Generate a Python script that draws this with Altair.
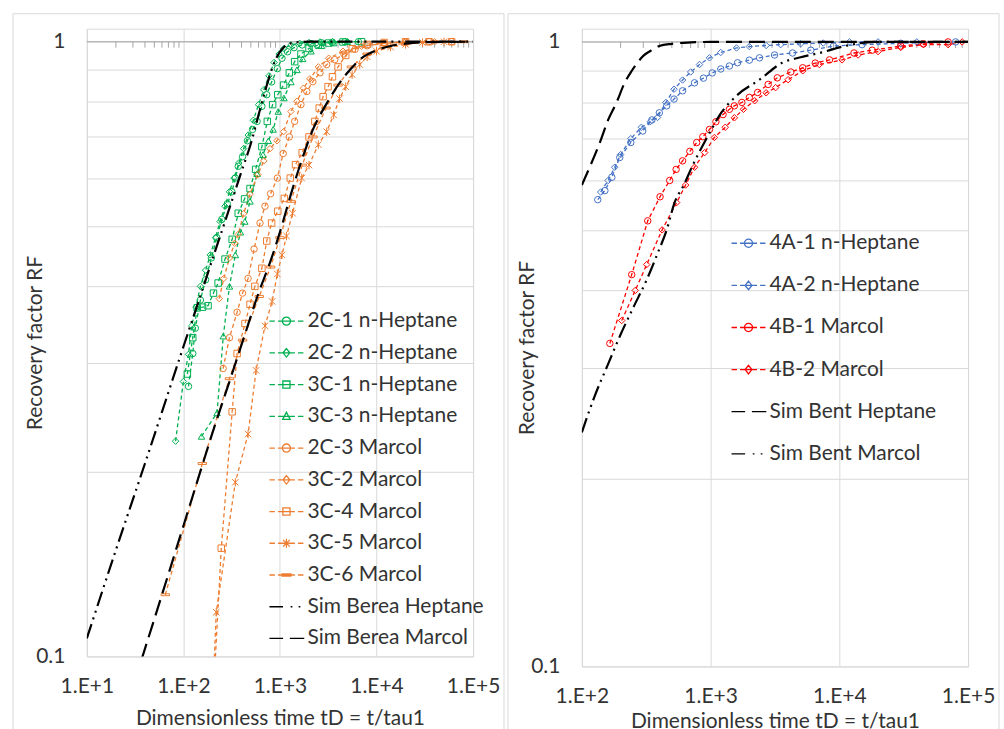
import altair as alt
import pandas as pd

FONT = "Lato"
TXT = "#333333"
GRID = "#d9d9d9"
GREEN = "#00B050"
ORANGE = "#ED7D31"
BLUE = "#4472C4"
RED = "#FF0000"
FS = 21

# ---------------- Left panel (Berea) : experiments ----------------
b_2c1_t = [113, 125, 133, 150, 170, 195, 222, 250, 285, 318, 345, 370, 410, 460, 520, 580, 650, 730, 820, 940, 1050, 1200, 1400, 1700, 2100, 2700, 3500, 4700, 6500]
b_2c1_rf = [0.275, 0.311, 0.342, 0.38, 0.41, 0.445, 0.48, 0.514, 0.545, 0.57, 0.60, 0.627, 0.65, 0.69, 0.72, 0.742, 0.785, 0.82, 0.86, 0.904, 0.94, 0.963, 0.978, 0.988, 0.993, 0.996, 0.998, 1.0, 1.0]

b_2c2_t = [83, 100, 113, 122, 135, 150, 170, 190, 215, 240, 270, 300, 335, 375, 420, 470, 530, 600, 680, 770, 870, 980, 1100, 1300, 1600, 2000, 2600, 3500, 5000]
b_2c2_rf = [0.224, 0.28, 0.31, 0.345, 0.37, 0.40, 0.425, 0.45, 0.48, 0.51, 0.54, 0.57, 0.60, 0.635, 0.67, 0.705, 0.745, 0.79, 0.835, 0.88, 0.925, 0.955, 0.975, 0.988, 0.994, 0.997, 0.999, 1.0, 1.0]

b_3c1_t = [110, 125, 139, 158, 180, 205, 229, 270, 320, 370, 430, 490, 560, 650, 740, 840, 950, 1090, 1250, 1420, 1650, 2000, 2500, 3200, 4500, 7000]
b_3c1_rf = [0.288, 0.33, 0.369, 0.37, 0.372, 0.39, 0.405, 0.443, 0.477, 0.526, 0.555, 0.577, 0.62, 0.675, 0.742, 0.79, 0.82, 0.85, 0.89, 0.928, 0.955, 0.975, 0.988, 0.995, 0.999, 1.0]

b_3c3_t = [154, 223, 259, 300, 345, 390, 433, 490, 580, 667, 760, 850, 960, 1100, 1300, 1500, 1720, 2100, 2700, 3600, 5000]
b_3c3_rf = [0.228, 0.249, 0.332, 0.40, 0.45, 0.49, 0.51, 0.55, 0.61, 0.655, 0.69, 0.72, 0.77, 0.81, 0.86, 0.90, 0.938, 0.965, 0.985, 0.995, 1.0]

b_2c3_t = [258, 300, 360, 410, 468, 540, 622, 700, 800, 940, 1080, 1250, 1420, 1650, 1900, 2190, 2600, 3050, 3700, 4600, 6000, 8000, 12000, 20000, 35000, 60000]
b_2c3_rf = [0.294, 0.33, 0.363, 0.39, 0.412, 0.46, 0.507, 0.54, 0.566, 0.60, 0.658, 0.70, 0.742, 0.79, 0.83, 0.861, 0.89, 0.918, 0.935, 0.955, 0.972, 0.985, 0.994, 0.998, 1.0, 1.0]

b_3c2_t = [235, 262, 300, 340, 370, 420, 490, 590, 680, 790, 930, 1090, 1300, 1500, 1750, 2040, 2500, 3200, 4500, 7000, 12000, 20000, 40000]
b_3c2_rf = [0.382, 0.412, 0.445, 0.47, 0.486, 0.525, 0.565, 0.608, 0.64, 0.67, 0.69, 0.714, 0.77, 0.80, 0.84, 0.87, 0.91, 0.94, 0.965, 0.983, 0.994, 0.999, 1.0]

b_3c4_t = [207, 247, 320, 360, 435, 490, 550, 650, 730, 820, 950, 1110, 1280, 1450, 1700, 2000, 2300, 2550, 2800, 3150, 3500, 4000, 4800, 5600, 8000, 12000, 20000, 35000, 60000]
b_3c4_rf = [0.09, 0.150, 0.25, 0.311, 0.348, 0.374, 0.40, 0.428, 0.474, 0.507, 0.53, 0.556, 0.60, 0.631, 0.66, 0.70, 0.742, 0.78, 0.814, 0.845, 0.877, 0.91, 0.95, 0.974, 0.99, 0.997, 1.0, 1.0, 1.0]

b_3c5_t = [205, 219, 345, 468, 566, 700, 830, 940, 1050, 1170, 1350, 1680, 2000, 2500, 3050, 3600, 4150, 4800, 5600, 6700, 8000, 10000, 14000, 20000, 30000, 50000]
b_3c5_rf = [0.092, 0.118, 0.192, 0.23, 0.292, 0.345, 0.378, 0.419, 0.45, 0.483, 0.526, 0.60, 0.63, 0.68, 0.714, 0.76, 0.808, 0.845, 0.884, 0.918, 0.945, 0.965, 0.98, 0.99, 0.997, 1.0]

b_3c6_t = [65, 157, 300, 410, 610, 800, 1000, 1300, 1700, 2200, 3000, 4000, 5500, 8000, 12000, 20000, 40000, 80000]
b_3c6_rf = [0.126, 0.206, 0.283, 0.327, 0.385, 0.43, 0.48, 0.55, 0.63, 0.70, 0.78, 0.85, 0.91, 0.955, 0.982, 0.995, 1.0, 1.0]

# Left panel simulations
sim_bh_t = [10, 20, 40, 70, 100, 150, 200, 300, 400, 500, 600, 700, 800, 900, 1000, 1100, 1250, 1500, 2000, 5000, 100000]
sim_bh_rf = [0.107, 0.149, 0.206, 0.269, 0.319, 0.386, 0.443, 0.536, 0.615, 0.683, 0.76, 0.83, 0.89, 0.935, 0.963, 0.98, 0.992, 0.998, 1.0, 1.0, 1.0]

sim_bm_t = [37, 60, 100, 150, 200, 300, 450, 600, 800, 1000, 1300, 1700, 2200, 3000, 4000, 5000, 7000, 10000, 14000, 20000, 30000, 100000]
sim_bm_rf = [0.099, 0.126, 0.163, 0.2, 0.231, 0.28, 0.34, 0.39, 0.44, 0.49, 0.565, 0.645, 0.72, 0.79, 0.85, 0.89, 0.94, 0.968, 0.984, 0.993, 0.998, 1.0]

# ---------------- Right panel (Bentheimer) : experiments ----------------
r_4a1_t = [133, 151, 171, 197, 240, 297, 350, 400, 456, 520, 606, 750, 880, 1030, 1200, 1400, 1620, 2000, 2400, 3140, 4330, 6000, 9000, 15000, 30000, 80000]
r_4a1_rf = [0.559, 0.578, 0.607, 0.653, 0.69, 0.72, 0.75, 0.77, 0.79, 0.81, 0.835, 0.86, 0.875, 0.892, 0.905, 0.915, 0.926, 0.935, 0.943, 0.953, 0.96, 0.97, 0.985, 0.99, 0.995, 1.0]

r_4a2_t = [140, 160, 180, 200, 240, 290, 340, 387, 450, 520, 606, 700, 820, 980, 1200, 1590, 2000, 2700, 3500, 5000, 7500, 12000, 20000, 40000]
r_4a2_rf = [0.575, 0.60, 0.63, 0.66, 0.70, 0.73, 0.745, 0.757, 0.80, 0.84, 0.869, 0.895, 0.92, 0.943, 0.962, 0.978, 0.983, 0.987, 0.99, 0.993, 0.996, 1.0, 1.0, 1.0]

r_4b1_t = [165, 244, 325, 405, 481, 540, 606, 690, 780, 870, 980, 1100, 1250, 1400, 1530, 1750, 2000, 2320, 2800, 3300, 4200, 5190, 6500, 8390, 13000, 18000, 30000, 45000, 70000]
r_4b1_rf = [0.329, 0.424, 0.517, 0.565, 0.60, 0.625, 0.645, 0.668, 0.69, 0.705, 0.724, 0.745, 0.765, 0.78, 0.79, 0.80, 0.815, 0.83, 0.855, 0.876, 0.895, 0.909, 0.925, 0.936, 0.96, 0.97, 0.985, 0.993, 1.0]

r_4b2_t = [204, 260, 319, 420, 545, 640, 750, 900, 1070, 1300, 1530, 1800, 2200, 2700, 3200, 4000, 5200, 7000, 10500, 14000, 20000, 30000, 45000, 70000, 90000]
r_4b2_rf = [0.358, 0.40, 0.44, 0.50, 0.553, 0.59, 0.63, 0.665, 0.703, 0.73, 0.756, 0.78, 0.805, 0.829, 0.845, 0.87, 0.899, 0.92, 0.936, 0.953, 0.965, 0.98, 0.99, 0.99, 1.0]

# Right panel simulations
sim_th_t = [100, 115, 138, 160, 186, 215, 245, 270, 300, 340, 400, 500, 700, 1000, 3000, 100000]
sim_th_rf = [0.59, 0.63, 0.69, 0.75, 0.80, 0.86, 0.90, 0.926, 0.95, 0.967, 0.985, 0.993, 0.998, 1.0, 1.0, 1.0]

sim_tm_t = [100, 125, 159, 200, 250, 319, 390, 456, 525, 620, 725, 867, 1000, 1170, 1590, 2400, 3600, 5000, 7300, 11000, 20000, 100000]
sim_tm_rf = [0.237, 0.27, 0.304, 0.34, 0.375, 0.416, 0.46, 0.50, 0.553, 0.59, 0.634, 0.682, 0.72, 0.762, 0.82, 0.87, 0.926, 0.945, 0.962, 0.985, 1.0, 1.0]

# ---------------- series definitions ----------------
left_exp = {
    "2C-1 n-Heptane": (b_2c1_t, b_2c1_rf),
    "2C-2 n-Heptane": (b_2c2_t, b_2c2_rf),
    "3C-1 n-Heptane": (b_3c1_t, b_3c1_rf),
    "3C-3 n-Heptane": (b_3c3_t, b_3c3_rf),
    "2C-3 Marcol": (b_2c3_t, b_2c3_rf),
    "3C-2 Marcol": (b_3c2_t, b_3c2_rf),
    "3C-4 Marcol": (b_3c4_t, b_3c4_rf),
    "3C-5 Marcol": (b_3c5_t, b_3c5_rf),
    "3C-6 Marcol": (b_3c6_t, b_3c6_rf),
}
left_colors = [GREEN] * 4 + [ORANGE] * 5
left_sims = {"Sim Berea Heptane": (sim_bh_t, sim_bh_rf), "Sim Berea Marcol": (sim_bm_t, sim_bm_rf)}

right_exp = {
    "4A-1 n-Heptane": (r_4a1_t, r_4a1_rf),
    "4A-2 n-Heptane": (r_4a2_t, r_4a2_rf),
    "4B-1 Marcol": (r_4b1_t, r_4b1_rf),
    "4B-2 Marcol": (r_4b2_t, r_4b2_rf),
}
right_colors = [BLUE, BLUE, RED, RED]
right_sims = {"Sim Bent Heptane": (sim_th_t, sim_th_rf), "Sim Bent Marcol": (sim_tm_t, sim_tm_rf)}

# marker shapes (plot)
ASTER = "M-1,-1L1,1M-1,1L1,-1M0,-1.3V1.3"
DASHM = "M-1.3,-0.3H1.3V0.3H-1.3Z"
left_shapes = ["circle", "diamond", "square", "triangle-up", "circle", "diamond", "square", ASTER, DASHM]
right_shapes = ["circle", "diamond", "circle", "diamond"]

# legend symbols: dashed line with marker
LN = "M-1,0H-0.68M-0.5,0H0.5M0.68,0H1"
CIR = "M0.24,0A0.24,0.24 0 1,1 -0.24,0A0.24,0.24 0 1,1 0.24,0Z"
DIA = "M0,-0.25L0.2,0L0,0.25L-0.2,0Z"
SQU = "M-0.21,-0.21H0.21V0.21H-0.21Z"
TRI = "M0,-0.24L0.22,0.18H-0.22Z"
AST = "M-0.2,-0.2L0.2,0.2M-0.2,0.2L0.2,-0.2M0,-0.26V0.26"
DSH = "M-0.26,-0.06H0.26V0.06H-0.26Z"
SIM_DDOT = "M-1,0H-0.2M0.25,0H0.35M0.72,0H0.82"
SIM_DASH = "M-1,0H-0.2M0.2,0H1.05"
left_legend_paths = [LN + m for m in [CIR, DIA, SQU, TRI, CIR, DIA, SQU, AST, DSH]] + [SIM_DDOT, SIM_DASH]
right_legend_paths = [LN + m for m in [CIR, DIA, CIR, DIA]] + [SIM_DASH, SIM_DDOT]

DASH_DOT_DOT = [15, 5, 2, 5, 2, 5]
LONG_DASH = [16, 7]


def to_df(d):
    rows = []
    for name, (ts, rfs) in d.items():
        for t, r in zip(ts, rfs):
            rows.append({"series": name, "t": t, "rf": r})
    return pd.DataFrame(rows)


def panel(exp, colors, shapes, sims, sim_dashes, legend_paths, x_domain, x_values,
          width, height, y_title_x, x_title_y, leg_x, leg_y, leg_row_pad):
    names = list(exp.keys())
    sim_names = list(sims.keys())
    all_names = names + sim_names
    all_colors = colors + ["#000000"] * len(sim_names)
    widths = [1.3] * len(names) + [2.2] * len(sim_names)
    exp_df = to_df(exp)

    X = alt.X("t:Q", scale=alt.Scale(type="log", domain=x_domain, nice=False),
              axis=alt.Axis(values=x_values,
                            labelExpr="'1.E+' + round(log(datum.value)/LN10)",
                            grid=True, gridColor=GRID, ticks=False, domain=False,
                            labelFont=FONT, labelFontSize=FS, labelColor=TXT,
                            labelPadding=30, labelBaseline="middle",
                            labelFlush=False, labelOverlap=False,
                            title="Dimensionless time tD = t/tau1", titleFont=FONT,
                            titleFontSize=FS, titleFontWeight="normal", titleColor=TXT,
                            titleX=width / 2, titleY=x_title_y, titleBaseline="middle",
                            titleAlign="center"))
    Y = alt.Y("rf:Q", scale=alt.Scale(type="log", domain=[0.1, 1.05], nice=False),
              axis=alt.Axis(values=[0.1, 0.2, 0.3, 0.4, 0.5, 0.6, 0.7, 0.8, 0.9, 1.0],
                            labelExpr="datum.value == 1 ? '1' : (datum.value == 0.1 ? '0.1' : '')",
                            grid=True, gridColor=GRID, ticks=False, domain=False,
                            labelFont=FONT, labelFontSize=FS, labelColor=TXT,
                            labelPadding=22, labelOverlap=False, labelFlush=False,
                            title="Recovery factor RF", titleFont=FONT, titleFontSize=FS,
                            titleFontWeight="normal", titleColor=TXT, titleAngle=270,
                            titleX=y_title_x, titleY=height / 2, titleAlign="center",
                            titleBaseline="middle"))

    frame = alt.Chart(pd.DataFrame({"k": [0]})).mark_rect(
        fillOpacity=0, stroke=GRID, strokeWidth=1).encode(
        x=alt.value(-74), x2=alt.value(width + 31), y=alt.value(-15), y2=alt.value(720))

    lo = x_domain[0]
    minor = [k * lo * 10 ** e for e in range(0, 4) for k in range(2, 10) if k * lo * 10 ** e < x_domain[1]]
    axis_line = alt.Chart(pd.DataFrame({"rf": [1.0]})).mark_rule(
        color="#a6a6a6", strokeWidth=1).encode(y=Y)
    minor_ticks = alt.Chart(pd.DataFrame({"t": minor, "rf": [1.0] * len(minor)})).mark_rule(
        color="#a6a6a6", strokeWidth=1).encode(x=X, y=Y, y2=alt.datum(0.978))

    lines = alt.Chart(exp_df).mark_line(strokeDash=[4, 3], strokeWidth=1.3, clip=True).encode(
        x=X, y=Y,
        color=alt.Color("series:N", scale=alt.Scale(domain=names, range=colors), legend=None),
        detail="series:N")
    pts = alt.Chart(exp_df).mark_point(filled=False, size=42, strokeWidth=1, opacity=1, clip=True).encode(
        x=X, y=Y,
        color=alt.Color("series:N", scale=alt.Scale(domain=names, range=colors), legend=None),
        shape=alt.Shape("series:N", scale=alt.Scale(domain=names, range=shapes), legend=None))

    sim_layers = []
    for (nm, (ts, rfs)), dash in zip(sims.items(), sim_dashes):
        sdf = pd.DataFrame({"t": ts, "rf": rfs})
        sim_layers.append(alt.Chart(sdf).mark_line(
            color="black", strokeWidth=2.2, strokeDash=dash, clip=True,
            interpolate="monotone").encode(x=X, y=Y))

    LEG = alt.Legend(title=None, orient="none", legendX=leg_x, legendY=leg_y,
                     labelFont=FONT, labelFontSize=FS, labelColor=TXT,
                     symbolSize=1156, rowPadding=leg_row_pad, labelOffset=3, padding=0,
                     labelLimit=400)
    leg = alt.Chart(exp_df).transform_filter("false").mark_point(
        filled=False, size=1156, opacity=1).encode(
        x=X, y=Y,
        color=alt.Color("series:N", scale=alt.Scale(domain=all_names, range=all_colors), legend=LEG),
        shape=alt.Shape("series:N", scale=alt.Scale(domain=all_names, range=legend_paths), legend=LEG),
        strokeWidth=alt.StrokeWidth("series:N", scale=alt.Scale(domain=all_names, range=widths), legend=LEG))

    return alt.layer(frame, axis_line, minor_ticks, lines, pts, *sim_layers, leg).resolve_scale(
        color="independent", shape="independent", strokeWidth="independent"
    ).properties(width=width, height=height)


left = panel(left_exp, left_colors, left_shapes, left_sims, [DASH_DOT_DOT, LONG_DASH],
             left_legend_paths, [10, 100000], [10, 100, 1000, 10000, 100000],
             387, 629, -51, 62, 182, 275, 3.8)
right = panel(right_exp, right_colors, right_shapes, right_sims, [LONG_DASH, DASH_DOT_DOT],
              right_legend_paths, [100, 100000], [100, 1000, 10000, 100000],
              387, 639, -54, 55, 149, 197, 14.2)

chart = alt.hconcat(left, right, spacing=109, bounds="flush").properties(
    padding={"left": 12, "top": 12, "right": 4, "bottom": 0}, background="white"
).configure_view(stroke=GRID, strokeWidth=1)

chart.save("out.html", embed_options={"renderer": "svg", "actions": False})
